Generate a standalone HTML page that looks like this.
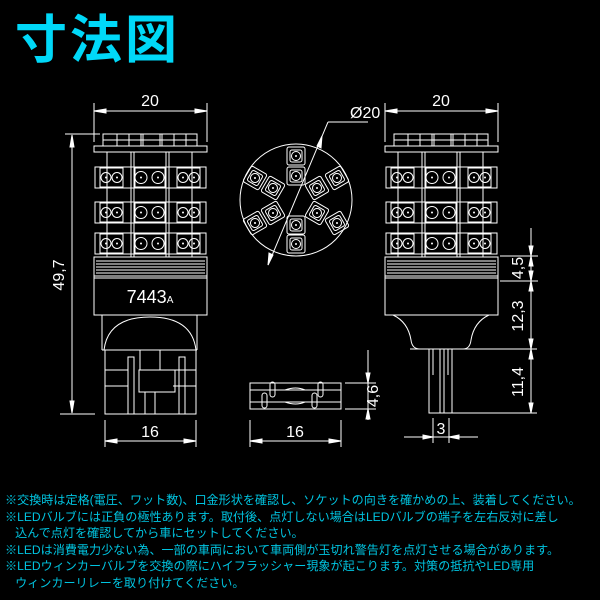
<!DOCTYPE html>
<html><head><meta charset="utf-8"><style>
html,body{margin:0;padding:0;background:#000;}
body{width:600px;height:600px;overflow:hidden;position:relative;}
.t{position:absolute;left:15px;top:5px;font:bold 52px "Noto Sans CJK JP",sans-serif;color:#00d8f8;letter-spacing:3px;line-height:62px;}
.n{position:absolute;left:5px;top:492px;font:12.1px/16.6px "Liberation Sans","Noto Sans CJK JP",sans-serif;color:#00c4e0;white-space:nowrap;}
svg{position:absolute;left:0;top:0;}
</style></head><body>
<svg width="600" height="600" viewBox="0 0 600 600" fill="none" stroke="#fff" stroke-width="1">
<defs>
<g id="row">
<rect x="95" y="0" width="111" height="21"/>
<rect x="100" y="1" width="23" height="19"/><rect x="135" y="1" width="30" height="19"/><rect x="177" y="1" width="23" height="19"/>
<circle cx="106" cy="10.5" r="5"/><circle cx="117" cy="10.5" r="5"/>
<circle cx="141" cy="10.5" r="6"/><circle cx="158" cy="10.5" r="6"/>
<circle cx="183" cy="10.5" r="5"/><circle cx="194" cy="10.5" r="5"/>
<g fill="#fff" stroke="none"><circle cx="106" cy="10.5" r="1"/><circle cx="117" cy="10.5" r="1"/><circle cx="141" cy="10.5" r="1"/><circle cx="158" cy="10.5" r="1"/><circle cx="183" cy="10.5" r="1"/><circle cx="194" cy="10.5" r="1"/></g>
</g>
<g id="top">
<rect x="103" y="134" width="94" height="12"/>
<line x1="103" y1="140" x2="197" y2="140"/>
<line x1="117" y1="134" x2="117" y2="146"/><line x1="129" y1="134" x2="129" y2="146"/><line x1="141" y1="134" x2="141" y2="146"/><line x1="143" y1="134" x2="143" y2="146"/><line x1="160" y1="134" x2="160" y2="146"/><line x1="162" y1="134" x2="162" y2="146"/><line x1="174" y1="134" x2="174" y2="146"/><line x1="186" y1="134" x2="186" y2="146"/>
<rect x="94" y="146" width="113" height="6"/>
<line x1="107" y1="152" x2="107" y2="257"/><line x1="192" y1="152" x2="192" y2="257"/>
<line x1="131" y1="152" x2="131" y2="257"/><line x1="134" y1="152" x2="134" y2="257"/>
<line x1="166" y1="152" x2="166" y2="257"/><line x1="169" y1="152" x2="169" y2="257"/>
<use href="#row" y="167"/><use href="#row" y="202"/><use href="#row" y="233"/>
<rect x="94" y="257" width="113" height="21"/>
<line x1="96" y1="261" x2="205" y2="261"/><line x1="96" y1="264" x2="205" y2="264"/><line x1="96" y1="267" x2="205" y2="267"/><line x1="96" y1="270" x2="205" y2="270"/><line x1="96" y1="273" x2="205" y2="273"/><line x1="94" y1="276" x2="207" y2="276"/>
<line x1="94" y1="111" x2="207" y2="111"/><line x1="94" y1="103" x2="94" y2="142"/><line x1="207" y1="103" x2="207" y2="142"/>
<path d="M94 111l12-2v4zM207 111l-12-2v4z" fill="#fff"/>
</g>
<g id="sq"><rect x="-9" y="-9" width="18" height="18" rx="2"/><rect x="-6" y="-6" width="12" height="12" rx="2"/><circle r="4.5"/><circle r="1" fill="#fff" stroke="none"/></g>
</defs>
<use href="#top"/>
<use href="#top" x="291"/>
<g fill="#fff" stroke="none" font-family="Liberation Sans,sans-serif" font-size="16">
<text x="150" y="106" text-anchor="middle">20</text>
<text x="441" y="106" text-anchor="middle">20</text>
<text x="150" y="303" text-anchor="middle" font-size="18">7443<tspan font-size="10">A</tspan></text>
<text x="150" y="437" text-anchor="middle">16</text>
<text x="295" y="437" text-anchor="middle">16</text>
<text x="350" y="118">Ø20</text>
<text transform="translate(64,275) rotate(-90)" text-anchor="middle">49,7</text>
<text transform="translate(378,396) rotate(-90)" text-anchor="middle">4,6</text>
<text transform="translate(523,268) rotate(-90)" text-anchor="middle">4,5</text>
<text transform="translate(523,316) rotate(-90)" text-anchor="middle">12,3</text>
<text transform="translate(523,382) rotate(-90)" text-anchor="middle">11,4</text>
<text x="441" y="434" text-anchor="middle">3</text>
</g>
<rect x="94" y="278" width="113" height="37"/>
<line x1="102" y1="315" x2="102" y2="350"/><line x1="197" y1="315" x2="197" y2="350"/>
<path d="M104 350 Q108 317 150 317 Q192 317 196 350"/>
<line x1="102" y1="350" x2="197" y2="350"/>
<rect x="105" y="350" width="91" height="64"/>
<line x1="105" y1="370" x2="128" y2="370"/><line x1="105" y1="386" x2="128" y2="386"/>
<line x1="173" y1="370" x2="196" y2="370"/><line x1="173" y1="386" x2="196" y2="386"/>
<rect x="128" y="357" width="6" height="57"/><rect x="179" y="357" width="6" height="57"/>
<line x1="140" y1="350" x2="140" y2="370"/><line x1="160" y1="350" x2="160" y2="370"/>
<path d="M139 370 L175 370 L175 392 L139 392 Z"/>
<line x1="145" y1="392" x2="145" y2="414"/><line x1="155" y1="392" x2="155" y2="414"/>
<line x1="72" y1="135" x2="72" y2="413"/><line x1="65" y1="134" x2="100" y2="134"/><line x1="60" y1="414" x2="95" y2="414"/>
<path d="M72 135l-2 12h4zM72 413l-2-12h4z" fill="#fff"/>
<line x1="105" y1="420" x2="105" y2="447"/><line x1="196" y1="420" x2="196" y2="447"/><line x1="105" y1="441" x2="196" y2="441"/>
<path d="M105 441l12-2v4zM196 441l-12-2v4z" fill="#fff"/>
<circle cx="296" cy="200" r="56"/>
<use href="#sq" x="296" y="156"/><use href="#sq" x="296" y="176"/><use href="#sq" x="296" y="225"/><use href="#sq" x="296" y="244"/>
<use href="#sq" transform="translate(255,178) rotate(30)"/><use href="#sq" transform="translate(273,188) rotate(30)"/>
<use href="#sq" transform="translate(337,178) rotate(-30)"/><use href="#sq" transform="translate(317,188) rotate(-30)"/>
<use href="#sq" transform="translate(255,223) rotate(-30)"/><use href="#sq" transform="translate(273,213) rotate(-30)"/>
<use href="#sq" transform="translate(337,223) rotate(-30)"/><use href="#sq" transform="translate(317,213) rotate(30)"/>
<line x1="268" y1="265" x2="328" y2="122"/><line x1="328" y1="122" x2="368" y2="122"/>
<path d="M268 265l1-12 4 2zM322 136l-1 12-4-2z" fill="#fff"/>
<rect x="250" y="383" width="91" height="26"/>
<line x1="250" y1="390" x2="341" y2="390"/><line x1="250" y1="402" x2="341" y2="402"/>
<rect x="270" y="382" width="5" height="15" rx="2.5"/><rect x="318" y="382" width="5" height="15" rx="2.5"/>
<rect x="262" y="393" width="5" height="15" rx="2.5"/><rect x="312" y="393" width="5" height="15" rx="2.5"/>
<path d="M285 390 Q296 386 305 390 M285 402 Q296 406 305 402"/>
<line x1="345" y1="383" x2="376" y2="383"/><line x1="345" y1="409" x2="376" y2="409"/>
<line x1="368" y1="350" x2="368" y2="420"/>
<path d="M368 383l-2-10h4zM368 409l-2 10h4z" fill="#fff"/>
<line x1="250" y1="420" x2="250" y2="447"/><line x1="341" y1="420" x2="341" y2="447"/><line x1="250" y1="441" x2="341" y2="441"/>
<path d="M250 441l12-2v4zM341 441l-12-2v4z" fill="#fff"/>
<rect x="385" y="278" width="113" height="37"/>
<path d="M393 315 Q408 322 411 340 Q412 349 420 349 L463 349 Q470 349 471 340 Q474 322 489 315"/>
<line x1="410" y1="349" x2="537" y2="349"/>
<rect x="429" y="349" width="23" height="64"/>
<line x1="440" y1="349" x2="440" y2="413"/><line x1="444" y1="349" x2="444" y2="413"/>
<line x1="433" y1="349" x2="433" y2="375"/><line x1="448" y1="349" x2="448" y2="375"/>
<line x1="429" y1="413" x2="537" y2="413"/>
<line x1="500" y1="256" x2="538" y2="256"/><line x1="500" y1="281" x2="538" y2="281"/>
<line x1="531" y1="228" x2="531" y2="413"/>
<path d="M531 256l-2-10h4zM531 256l-2 10h4zM531 281l-2-10h4zM531 281l-2 10h4zM531 349l-2-10h4zM531 349l-2 10h4zM531 413l-2-10h4z" fill="#fff"/>
<line x1="433" y1="418" x2="433" y2="443"/><line x1="449" y1="418" x2="449" y2="443"/>
<line x1="404" y1="437" x2="478" y2="437"/>
<path d="M433 437l-10-2v4zM449 437l10-2v4z" fill="#fff"/>
</svg>
<div class="t">寸法図</div>
<div class="n">※交換時は定格(電圧、ワット数)、口金形状を確認し、ソケットの向きを確かめの上、装着してください。<br>※LEDバルブには正負の極性あります。取付後、点灯しない場合はLEDバルブの端子を左右反対に差し<br>&nbsp;&nbsp;&nbsp;込んで点灯を確認してから車にセットしてください。<br>※LEDは消費電力少ない為、一部の車両において車両側が玉切れ警告灯を点灯させる場合があります。<br>※LEDウィンカーバルブを交換の際にハイフラッシャー現象が起こります。対策の抵抗やLED専用<br>&nbsp;&nbsp;&nbsp;ウィンカーリレーを取り付けてください。</div>
</body></html>
